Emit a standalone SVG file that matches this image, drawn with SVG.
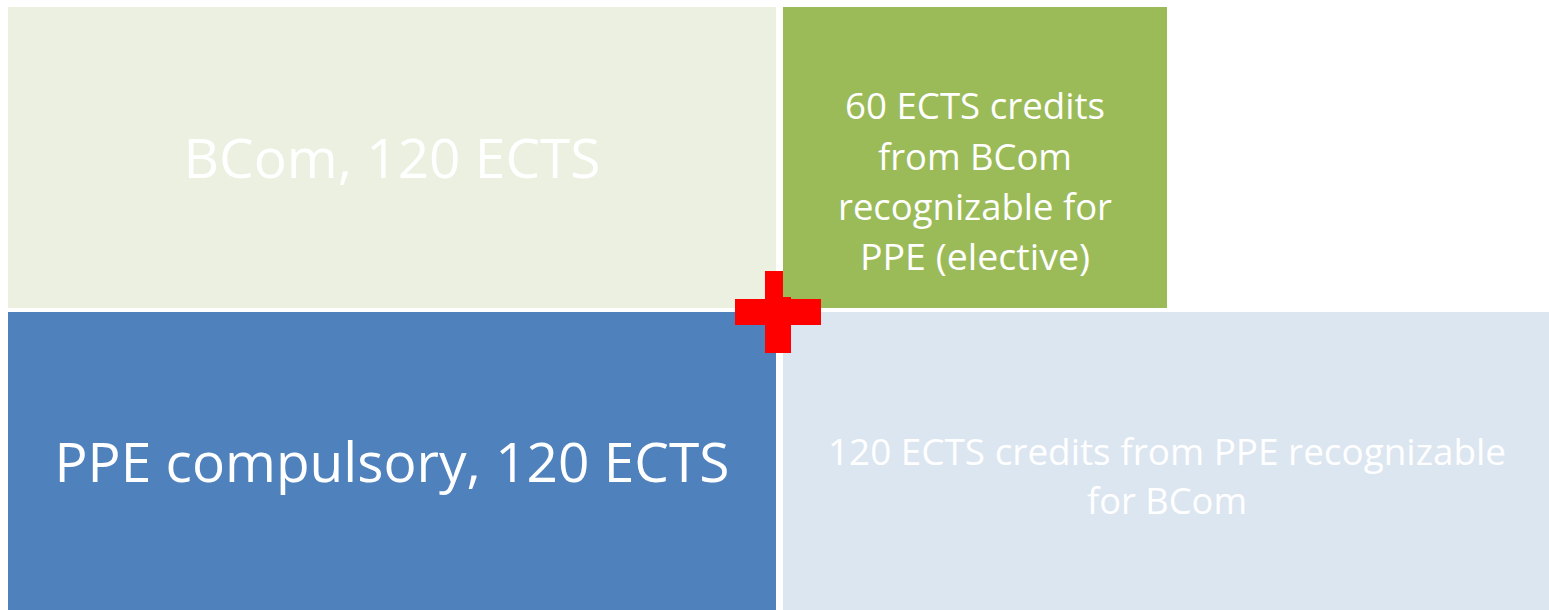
<svg xmlns="http://www.w3.org/2000/svg" width="1549" height="610" viewBox="0 0 1549 610">
<style>
text{font-family:"Open Sans","Liberation Sans",sans-serif;fill:#FFFFFF;text-anchor:middle}
.big{font-size:55px}
.mid{font-size:36px}
</style>
<rect width="1549" height="610" fill="#FFFFFF"/>
<g id="bcom">
<rect x="8" y="7" width="768" height="301" fill="#EBF0E0"/>
<text class="big" x="392" y="178" textLength="417" lengthAdjust="spacingAndGlyphs">BCom, 120 ECTS</text>
</g>
<g id="bcom-credits">
<rect x="783" y="7" width="384" height="301" fill="#9BBB59"/>
<text class="mid" x="975" y="119" textLength="260" lengthAdjust="spacingAndGlyphs">60 ECTS credits</text>
<text class="mid" x="975" y="170" textLength="194" lengthAdjust="spacingAndGlyphs">from BCom</text>
<text class="mid" x="975" y="220" textLength="274" lengthAdjust="spacingAndGlyphs">recognizable for</text>
<text class="mid" x="975" y="270" textLength="230" lengthAdjust="spacingAndGlyphs">PPE (elective)</text>
</g>
<g id="ppe">
<rect x="8" y="312" width="768" height="298" fill="#4F81BD"/>
<text class="big" x="392" y="482" textLength="675" lengthAdjust="spacingAndGlyphs">PPE compulsory, 120 ECTS</text>
</g>
<g id="ppe-credits">
<rect x="783" y="312" width="766" height="298" fill="#DCE6F1"/>
<text class="mid" x="1167" y="465" textLength="678" lengthAdjust="spacingAndGlyphs">120 ECTS credits from PPE recognizable</text>
<text class="mid" x="1167" y="514" textLength="160" lengthAdjust="spacingAndGlyphs">for BCom</text>
</g>
<g id="plus">
<polygon points="765,271 783,271 783,297 791,297 791,299 821,299 821,325 791,325 791,353 765,353 765,325 735,325 735,299 765,299" fill="#FF0000"/>
</g>
<g id="connectors"/>
</svg>
